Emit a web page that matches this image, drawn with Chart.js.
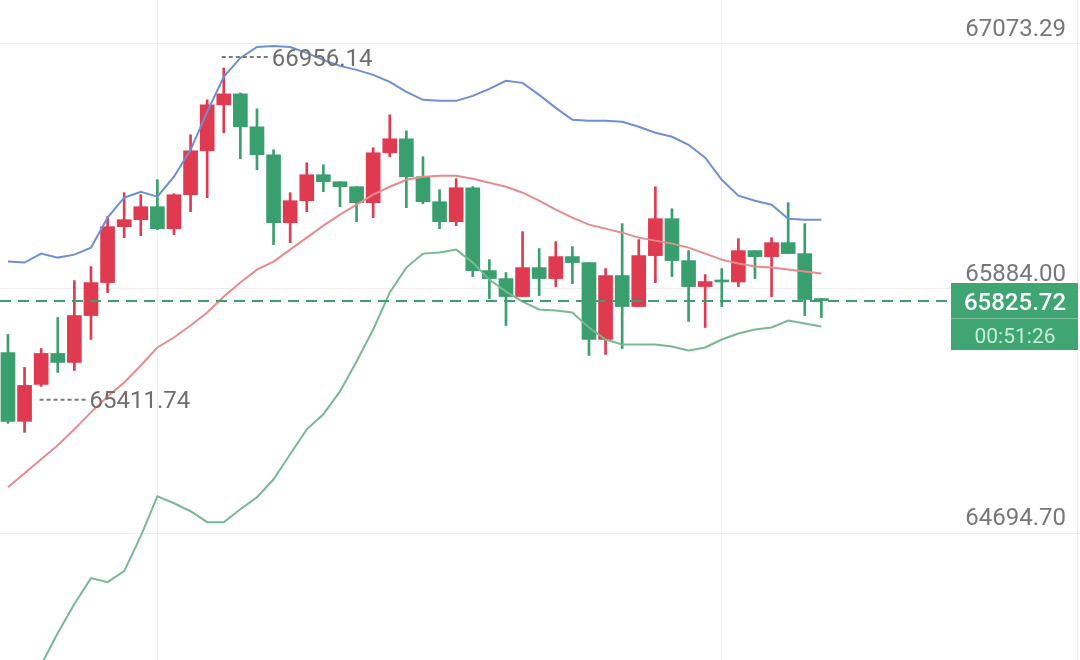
<!DOCTYPE html>
<html>
<head>
<meta charset="utf-8">
<script src="https://cdn.jsdelivr.net/npm/chart.js@4.4.1/dist/chart.umd.min.js"></script>
<style>
  html, body { margin: 0; padding: 0; background: #ffffff; }
  canvas { display: block; }
</style>
</head>
<body>
<canvas id="kline" width="1080" height="660"></canvas>
<script>
// candles, oldest first (red = up, green = down)
const opens = [65573.3, 65238.4, 65418.0, 65568.5, 65524.8, 65752.9, 65913.1, 66185.0, 66218.9, 66282.0,
  66175.3, 66340.3, 66553.9, 66777.2, 66830.6, 66670.4, 66534.5, 66204.4, 66311.2, 66437.4,
  66403.4, 66379.1, 66301.5, 66544.2, 66612.1, 66427.7, 66306.3, 66209.2, 66374.3, 65971.4,
  65932.5, 65845.2, 65985.9, 65932.5, 66039.3, 66010.2, 65636.4, 65947.1, 65796.6, 66044.2,
  66223.8, 66019.9, 65893.7, 65918.0, 65916.0, 66068.5, 66039.3, 66107.3, 66053.9, 65830.6];
const highs = [65660.7, 65500.5, 65592.7, 65743.2, 65922.8, 65990.8, 66233.5, 66350.0, 66340.3, 66413.1,
  66345.2, 66631.6, 66801.5, 66956.14, 66835.0, 66757.8, 66558.7, 66350.0, 66495.6, 66485.9,
  66403.4, 66379.1, 66568.5, 66728.6, 66651.0, 66524.8, 66364.6, 66418.0, 66380.0, 66024.8,
  65961.7, 66160.7, 66078.2, 66112.2, 66087.9, 66010.2, 65981.1, 66199.5, 66121.9, 66379.1,
  66272.3, 66068.5, 65952.0, 65981.1, 66126.7, 66068.5, 66131.6, 66301.5, 66199.5, 65835.5];
const lows = [65228.7, 65185.0, 65408.3, 65476.2, 65486.0, 65636.4, 65864.6, 66131.6, 66141.3, 66170.4,
  66146.1, 66257.8, 66325.7, 66641.3, 66515.1, 66461.7, 66097.6, 66107.3, 66257.8, 66354.9,
  66282.0, 66209.2, 66228.7, 66524.8, 66277.2, 66296.6, 66175.3, 66189.8, 65942.3, 65835.5,
  65704.4, 65845.2, 65850.0, 65893.7, 65908.3, 65558.8, 65563.6, 65592.7, 65796.6, 65913.1,
  65942.3, 65723.8, 65694.7, 65796.6, 65893.7, 65932.5, 65845.2, 66053.9, 65752.9, 65743.2];
const closes = [65238.4, 65413.1, 65568.5, 65524.8, 65752.9, 65913.1, 66185.0, 66218.9, 66282.0, 66175.3,
  66340.3, 66553.9, 66777.2, 66830.6, 66670.4, 66534.5, 66204.4, 66311.2, 66437.4, 66403.4,
  66379.1, 66301.5, 66544.2, 66612.1, 66427.7, 66306.3, 66209.2, 66374.3, 65971.4, 65932.5,
  65845.2, 65985.9, 65932.5, 66039.3, 66010.2, 65636.4, 65947.1, 65796.6, 66044.2, 66223.8,
  66019.9, 65893.7, 65918.0, 65916.0, 66068.5, 66039.3, 66107.3, 66053.9, 65830.6, 65825.72];

// bollinger bands
const upperBand = [66015.1, 66010.2, 66053.9, 66034.5, 66049.0, 66083.0, 66228.7, 66325.7, 66354.9, 66330.6,
  66427.7, 66558.7, 66743.2, 66913.1, 67005.3, 67058.7, 67063.6, 67058.7, 67029.6, 66995.6,
  66966.5, 66947.1, 66922.8, 66888.8, 66840.3, 66801.5, 66796.6, 66796.6, 66820.9, 66854.8,
  66893.7, 66884.0, 66825.7, 66762.6, 66704.4, 66699.5, 66699.5, 66694.7, 66670.4, 66641.3,
  66621.8, 66583.0, 66519.9, 66413.1, 66335.4, 66311.2, 66291.8, 66223.8, 66218.9, 66218.9];
const midBand = [64918.0, 64986.0, 65053.9, 65121.9, 65199.6, 65282.1, 65359.7, 65427.7, 65510.2, 65597.6,
  65646.1, 65704.4, 65767.5, 65845.2, 65913.1, 65976.2, 66015.1, 66073.3, 66131.6, 66189.8,
  66243.2, 66291.8, 66340.3, 66379.1, 66413.1, 66427.7, 66432.5, 66432.5, 66418.0, 66398.5,
  66379.1, 66350.0, 66311.2, 66267.5, 66228.7, 66194.7, 66175.3, 66155.8, 66131.6, 66117.0,
  66102.4, 66083.0, 66053.9, 66024.8, 66005.4, 65990.8, 65985.9, 65976.2, 65966.5, 65956.8];
const lowerBand = [63821.0, 63956.9, 64054.0, 64209.3, 64350.1, 64476.3, 64456.9, 64510.2, 64680.2, 64874.3,
  64840.3, 64801.5, 64748.1, 64748.1, 64811.2, 64869.5, 64956.8, 65078.2, 65199.6, 65272.4,
  65384.0, 65529.6, 65685.0, 65864.6, 65985.9, 66053.9, 66058.8, 66073.3, 66010.2, 65927.7,
  65869.4, 65820.9, 65782.1, 65777.2, 65767.5, 65694.7, 65636.4, 65612.2, 65612.2, 65612.2,
  65602.5, 65583.0, 65597.6, 65636.4, 65665.6, 65685.0, 65694.7, 65728.7, 65714.1, 65699.5];

const priceTicks = [67073.29, 65884.00, 64694.70];
const timeGridIdx = [9, 43];
const lastPrice = 65825.72;
const countdown = '00:51:26';
const highMark = { index: 13, value: 66956.14 };
const lowMark = { index: 1, value: 65411.74 };

const RED = '#e03a50';
const GREEN = '#3a9f6e';

const idx = closes.map((c, i) => i);
const candleColors = idx.map(i => closes[i] >= opens[i] ? RED : GREEN);

const overlay = {
    id: 'overlay',
    afterDatasetsDraw(chart) {
        const ctx = chart.ctx;
        const x = chart.scales.x;
        const y = chart.scales.y;
        ctx.save();

        // right border
        ctx.strokeStyle = '#eeeeee';
        ctx.lineWidth = 1;
        ctx.beginPath();
        ctx.moveTo(1077.5, 0);
        ctx.lineTo(1077.5, 660);
        ctx.stroke();

        // price labels
        ctx.font = '24px Roboto';
        ctx.fillStyle = '#777777';
        ctx.textAlign = 'right';
        ctx.textBaseline = 'alphabetic';
        priceTicks.forEach(v => {
            ctx.fillText(v.toFixed(2), 1066, y.getPixelForValue(v) - 8);
        });

        // last price line
        const py = Math.round(y.getPixelForValue(lastPrice));
        ctx.strokeStyle = '#3f9e70';
        ctx.lineWidth = 2;
        ctx.setLineDash([11, 7]);
        ctx.beginPath();
        ctx.moveTo(0, py);
        ctx.lineTo(951, py);
        ctx.stroke();
        ctx.setLineDash([]);

        // last price box
        ctx.fillStyle = '#3ea573';
        ctx.fillRect(951, py - 18, 127, 67);
        ctx.strokeStyle = 'rgba(255,255,255,0.35)';
        ctx.lineWidth = 1;
        ctx.beginPath();
        ctx.moveTo(951, py + 17.5);
        ctx.lineTo(1078, py + 17.5);
        ctx.stroke();
        ctx.textAlign = 'center';
        ctx.fillStyle = '#ffffff';
        ctx.font = '500 24px Roboto';
        ctx.fillText(lastPrice.toFixed(2), 1015, py + 9);
        ctx.fillStyle = '#c6eed7';
        ctx.font = '21px Roboto';
        ctx.fillText(countdown, 1015, py + 42);

        // high / low markers
        ctx.font = '24px Roboto';
        ctx.fillStyle = '#6e6e6e';
        ctx.strokeStyle = '#7a7a7a';
        ctx.lineWidth = 2;
        ctx.textAlign = 'left';
        const marks = [
            { m: highMark, dx: -2, dy: -11 },
            { m: lowMark, dx: 15, dy: 14 }
        ];
        marks.forEach(({ m, dx, dy }) => {
            const mx = x.getPixelForValue(m.index) + dx;
            const my = y.getPixelForValue(m.value) + dy;
            ctx.setLineDash([4, 3]);
            ctx.beginPath();
            ctx.moveTo(mx, my);
            ctx.lineTo(mx + 46, my);
            ctx.stroke();
            ctx.setLineDash([]);
            ctx.fillText(m.value.toFixed(2), mx + 50, my + 8.5);
        });
        ctx.restore();
    }
};

const bandLine = (label, data, color) => ({
    type: 'line',
    label: label,
    data: idx.map(i => ({ x: i, y: data[i] })),
    borderColor: color,
    borderWidth: 2,
    pointRadius: 0,
    tension: 0,
    order: 0
});

new Chart(document.getElementById('kline'), {
    type: 'bar',
    data: {
        datasets: [
            bandLine('UP', upperBand, '#6f8fd4'),
            bandLine('MB', midBand, '#e98b8b'),
            bandLine('DN', lowerBand, '#79b891'),
            {
                label: 'body',
                data: idx.map(i => ({ x: i, y: [opens[i], closes[i]] })),
                backgroundColor: candleColors,
                barThickness: 14,
                minBarLength: 2,
                grouped: false,
                order: 1
            },
            {
                label: 'wick',
                data: idx.map(i => ({ x: i, y: [lows[i], highs[i]] })),
                backgroundColor: candleColors,
                barThickness: 2,
                grouped: false,
                order: 2
            }
        ]
    },
    options: {
        responsive: false,
        animation: false,
        layout: { padding: 0 },
        plugins: {
            legend: { display: false },
            tooltip: { enabled: false }
        },
        scales: {
            x: {
                type: 'linear',
                min: -0.48,
                max: 64.58,
                offset: false,
                border: { display: false },
                ticks: { display: false },
                grid: { color: '#f0f0f0', lineWidth: 1, offset: false, drawTicks: false },
                afterBuildTicks: scale => { scale.ticks = timeGridIdx.map(v => ({ value: v })); },
                afterFit: scale => { scale.height = 0; }
            },
            y: {
                type: 'linear',
                position: 'right',
                min: 64078.2,
                max: 67286.9,
                border: { display: false },
                ticks: { display: false },
                grid: { color: '#eeeeee', lineWidth: 1, drawTicks: false },
                afterBuildTicks: scale => { scale.ticks = priceTicks.map(v => ({ value: v })); },
                afterFit: scale => { scale.width = 0; }
            }
        }
    },
    plugins: [overlay]
});
</script>
</body>
</html>
